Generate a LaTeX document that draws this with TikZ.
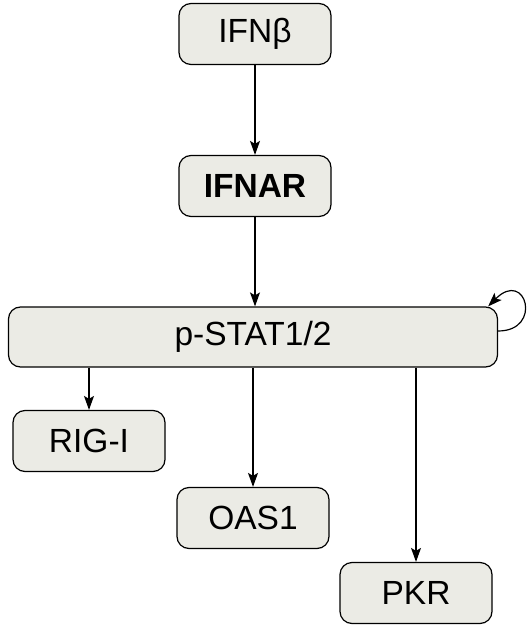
\documentclass[tikz,border=0pt]{standalone}
\usepackage{fontspec}
\setmainfont{Liberation Sans}
\usetikzlibrary{arrows.meta}
\definecolor{boxfill}{RGB}{235,235,229}

\begin{document}
\begin{tikzpicture}[x=1pt,y=-1pt,
	gene/.style={draw,line width=1.2pt,fill=boxfill,rounded corners=12pt,minimum width=152pt,minimum height=61pt,font=\fontsize{33.5}{38}\selectfont,inner sep=0pt},
	act/.style={-{Stealth[length=14pt,width=10pt,inset=3pt]},line width=1.2pt}]
	\useasboundingbox (0,0) rectangle (529,628);

	\node[gene] (IFNb) at (255,34) {IFNβ};
	\node[gene,font=\fontsize{33.5}{38}\selectfont\bfseries] (IFNAR) at (255,186) {IFNAR};
	\node[gene,minimum width=489pt,minimum height=60pt] (STAT) at (253,337) {p-STAT1/2};

	\node[gene] (RIGI) at (89,441) {RIG-I};
	\node[gene] (OAS) at (253,518) {OAS1};
	\node[gene] (PKR) at (416,593) {PKR};

	\draw [act] (IFNb) -- (IFNAR);
	\draw [act] (IFNAR.south) -- (STAT.north -| IFNAR.south);

	\draw [act] (STAT.south -| RIGI.north) -- (RIGI.north);
	\draw [act] (STAT.south -| OAS.north) -- (OAS.north);
	\draw [act] (STAT.south -| PKR.north) -- (PKR.north);

	% self activation
	\draw [act] ([yshift=6pt]STAT.east) .. controls +(45,0) and +(38,-38) .. ([xshift=-10pt]STAT.north east);
\end{tikzpicture}
\end{document}
